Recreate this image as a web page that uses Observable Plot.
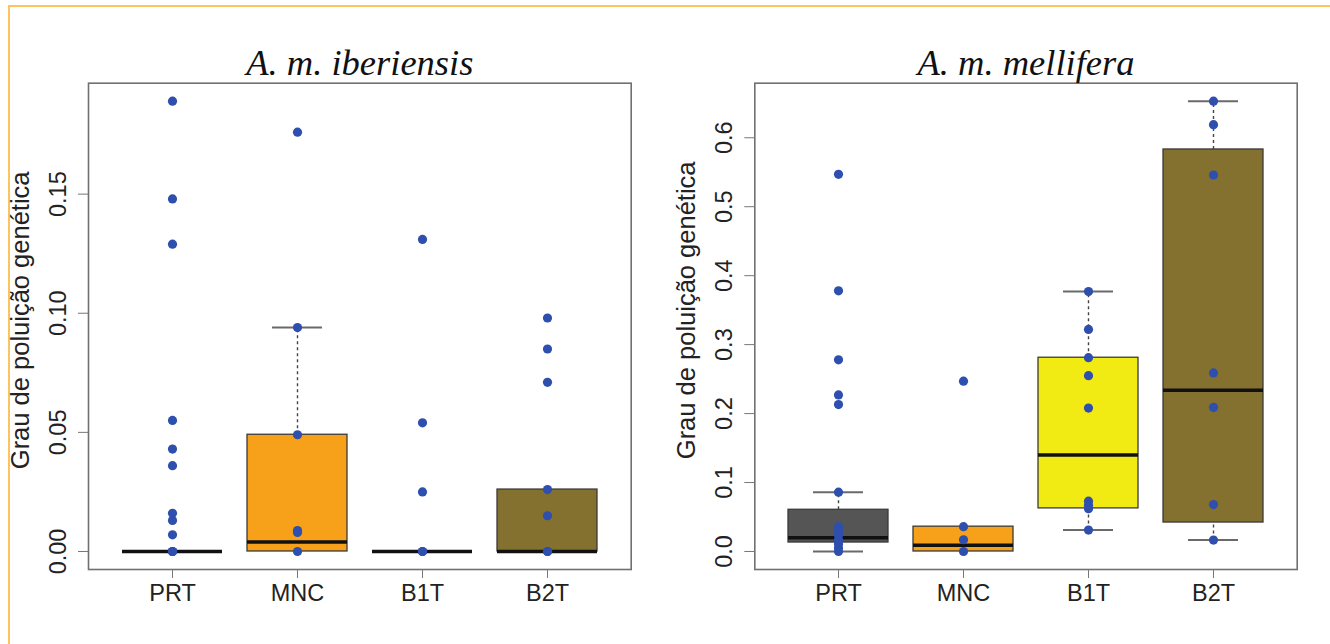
<!DOCTYPE html>
<html><head><meta charset="utf-8">
<script src="https://cdn.jsdelivr.net/npm/d3@7"></script>
<script src="https://cdn.jsdelivr.net/npm/@observablehq/plot@0.6"></script>
<style>
html,body{margin:0;padding:0;background:#fff;}
#wrap{position:relative;width:1330px;height:644px;overflow:hidden;background:#fff;}
#border{position:absolute;left:8px;top:5px;width:1400px;height:700px;border-top:2px solid #FDC35C;border-left:2px solid #FDC35C;}
.panel{position:absolute;top:0;}
</style></head><body>
<div id="wrap"><div id="border"></div><div class="panel" id="p1" style="left:0px"></div><div class="panel" id="p2" style="left:665px"></div></div>
<script>
const categories = ["PRT", "MNC", "B1T", "B2T"];
const boxColors = ["#555555", "#F7A11B", "#F2EA13", "#85712F"];
const yLabel = "Grau de poluição genética";

// A. m. iberiensis
const ibTitle = "A. m. iberiensis";
const ibPRT = [0.189, 0.148, 0.129, 0.055, 0.043, 0.036, 0.016, 0.013, 0.007, 0, 0, 0];
const ibMNC = [0.176, 0.094, 0.049, 0.0088, 0.008, 0];
const ibB1T = [0.131, 0.054, 0.025, 0, 0];
const ibB2T = [0.098, 0.085, 0.071, 0.026, 0.015, 0, 0];
const ibQ1 = [0, 0, 0, 0];
const ibMedian = [0, 0.004, 0, 0];
const ibQ3 = [0, 0.049, 0, 0.026];
const ibLow = [0, 0, 0, 0];
const ibHigh = [0, 0.094, 0, 0.026];
const ibTicks = [0, 0.05, 0.10, 0.15];
const ibTickLabels = ["0.00", "0.05", "0.10", "0.15"];

// A. m. mellifera
const meTitle = "A. m. mellifera";
const mePRT = [0.547, 0.378, 0.278, 0.227, 0.213, 0.086, 0.036, 0.030, 0.024, 0.017, 0.011, 0.005, 0];
const meMNC = [0.247, 0.036, 0.017, 0];
const meB1T = [0.377, 0.322, 0.281, 0.255, 0.208, 0.073, 0.067, 0.062, 0.031];
const meB2T = [0.653, 0.619, 0.546, 0.259, 0.209, 0.068, 0.0165];
const meQ1 = [0.013, 0, 0.0625, 0.042];
const meMedian = [0.020, 0.009, 0.140, 0.234];
const meQ3 = [0.0605, 0.036, 0.281, 0.583];
const meLow = [0, 0, 0.031, 0.0165];
const meHigh = [0.086, 0.036, 0.377, 0.653];
const meTicks = [0, 0.1, 0.2, 0.3, 0.4, 0.5, 0.6];
const meTickLabels = ["0.0", "0.1", "0.2", "0.3", "0.4", "0.5", "0.6"];

function panel({title, groups, q1, med, q3, lo, hi, ticks, tickLabels, marginLeft, marginRight, labelDy}) {
  const points = groups.flatMap((vals, i) => vals.map(v => ({cat: categories[i], v})));
  const boxes = categories.map((cat, i) => ({cat, q1: q1[i], med: med[i], q3: q3[i], lo: lo[i], hi: hi[i], color: boxColors[i]}));
  const all = points.map(d => d.v);
  const [mn, mx] = d3.extent(all);
  const pad = (mx - mn) * 0.04;
  const upper = boxes.filter(d => d.hi > d.q3);
  const lower = boxes.filter(d => d.lo < d.q1);
  return Plot.plot({
    width: 665, height: 644,
    marginLeft, marginRight, marginTop: 82.7, marginBottom: 75,
    style: {fontFamily: "'Liberation Sans', Arial, sans-serif", background: "transparent", overflow: "visible"},
    x: {type: "band", domain: categories, paddingInner: 0.2, paddingOuter: 0.26, axis: null},
    y: {domain: [mn - pad, mx + pad], axis: null},
    marks: [
      Plot.ruleX(upper, {x: "cat", y1: "q3", y2: "hi", stroke: "#444", strokeWidth: 1.4, strokeDasharray: "3,3"}),
      Plot.ruleX(lower, {x: "cat", y1: "lo", y2: "q1", stroke: "#444", strokeWidth: 1.4, strokeDasharray: "3,3"}),
      Plot.tickY(upper, {x: "cat", y: "hi", stroke: "#6a6a6a", strokeWidth: 2, insetLeft: 25, insetRight: 25}),
      Plot.tickY(lower, {x: "cat", y: "lo", stroke: "#6a6a6a", strokeWidth: 2, insetLeft: 25, insetRight: 25}),
      Plot.barY(boxes.filter(d => d.q3 > d.q1), {x: "cat", y1: "q1", y2: "q3", fill: "color", stroke: "#3a3a3a", strokeWidth: 1.3}),
      Plot.tickY(boxes, {x: "cat", y: "med", stroke: "#111", strokeWidth: 3.5}),
      Plot.dot(points, {x: "cat", y: "v", r: 4.6, fill: "#2E4FAE", stroke: "none"}),
      Plot.frame({stroke: "#707070", strokeWidth: 1.6}),
      Plot.axisY({ticks, tickFormat: d => tickLabels[ticks.indexOf(d)], tickSize: 10, tickPadding: 13, tickRotate: -90, fontSize: 23.5, stroke: "#777", fill: "#222", label: null}),
      Plot.axisX({tickSize: 9, tickPadding: 6, fontSize: 23.5, stroke: "#777", fill: "#222", label: null}),
      Plot.text([yLabel], {text: d => d, frameAnchor: "left", textAnchor: "middle", rotate: -90, dx: -60, dy: labelDy, lineAnchor: "bottom", fontSize: 25.5, fill: "#222"}),
      Plot.text([title], {text: d => d, frameAnchor: "top", textAnchor: "middle", dy: -8, lineAnchor: "bottom", fontSize: 36.5, fontFamily: "'Liberation Serif', 'Times New Roman', serif", fontStyle: "italic", fill: "#111"})
    ]
  });
}

document.getElementById("p1").append(panel({
  title: ibTitle, groups: [ibPRT, ibMNC, ibB1T, ibB2T], q1: ibQ1, med: ibMedian, q3: ibQ3, lo: ibLow, hi: ibHigh,
  ticks: ibTicks, tickLabels: ibTickLabels, marginLeft: 88, marginRight: 34.3, labelDy: -6
}));
document.getElementById("p2").append(panel({
  title: meTitle, groups: [mePRT, meMNC, meB1T, meB2T], q1: meQ1, med: meMedian, q3: meQ3, lo: meLow, hi: meHigh,
  ticks: meTicks, tickLabels: meTickLabels, marginLeft: 89.3, marginRight: 33.3, labelDy: -16
}));
</script>
</body></html>
